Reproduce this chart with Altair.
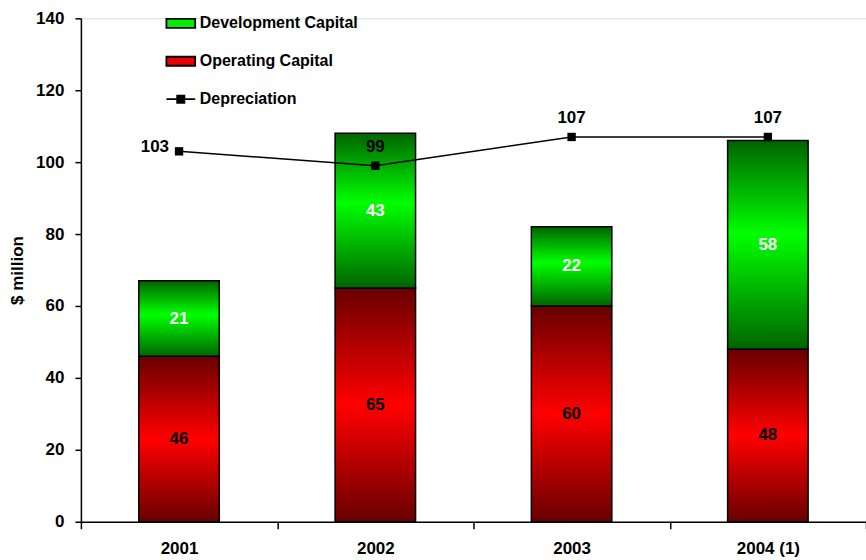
import altair as alt
import pandas as pd

years = ["2001", "2002", "2003", "2004 (1)"]
operating = [46, 65, 60, 48]
development = [21, 43, 22, 58]
depreciation = [103, 99, 107, 107]
series = ["Development Capital", "Operating Capital", "Depreciation"]

df = pd.DataFrame({
    "year": years,
    "operating": operating,
    "development": development,
    "depreciation": depreciation,
})
legend_df = pd.DataFrame({"series": series})

FONT = "Liberation Sans"

red_grad = {
    "gradient": "linear", "x1": 0, "y1": 0, "x2": 0, "y2": 1,
    "stops": [
        {"offset": 0, "color": "#680000"},
        {"offset": 0.5, "color": "#ff0000"},
        {"offset": 1, "color": "#680000"},
    ],
}
green_grad = {
    "gradient": "linear", "x1": 0, "y1": 0, "x2": 0, "y2": 1,
    "stops": [
        {"offset": 0, "color": "#006400"},
        {"offset": 0.45, "color": "#00ff00"},
        {"offset": 1, "color": "#006400"},
    ],
}

x_enc = alt.X(
    "year:N", sort=years, title=None,
    scale=alt.Scale(paddingInner=0, paddingOuter=0),
    axis=alt.Axis(labelAngle=0, tickBand="extent", ticks=True, tickSize=7,
                  tickColor="black", tickWidth=1.5, domainColor="black",
                  domainWidth=1.5, labelFont=FONT, labelFontWeight="bold",
                  labelFontSize=17, labelColor="black", labelPadding=12),
)
y_scale = alt.Scale(domain=[0, 140], nice=False)
y_axis = alt.Axis(values=list(range(0, 141, 20)), tickSize=6, tickColor="black",
                  tickWidth=1.5, domainColor="black", domainWidth=1.5,
                  grid=False, labelFont=FONT, labelFontWeight="bold",
                  labelFontSize=17, labelColor="black", labelPadding=11,
                  title="$ million", titleFont=FONT, titleFontWeight="bold",
                  titleFontSize=17, titleColor="black", titlePadding=9)

base = alt.Chart(df).transform_calculate(
    total="datum.operating + datum.development",
    op_mid="datum.operating / 2",
    dev_mid="datum.operating + datum.development / 2",
)

BAR_W = {"band": 0.41}

op_bars = base.mark_bar(fill=red_grad, stroke="black", strokeWidth=1.5,
                        width=BAR_W).encode(
    x=x_enc,
    y=alt.Y("operating:Q", scale=y_scale, axis=y_axis),
)
dev_bars = base.mark_bar(fill=green_grad, stroke="black", strokeWidth=1.5,
                         width=BAR_W).encode(
    x=x_enc,
    y=alt.Y("operating:Q", scale=y_scale, axis=y_axis),
    y2="total:Q",
)
op_text = base.mark_text(font=FONT, fontWeight="bold", fontSize=17, color="black",
                         baseline="middle").encode(
    x=x_enc, y=alt.Y("op_mid:Q", scale=y_scale), text="operating:Q")
dev_text = base.mark_text(font=FONT, fontWeight="bold", fontSize=17, color="white",
                          baseline="middle").encode(
    x=x_enc, y=alt.Y("dev_mid:Q", scale=y_scale), text="development:Q")

line = base.mark_line(color="black", strokeWidth=1.5).encode(
    x=x_enc, y=alt.Y("depreciation:Q", scale=y_scale))
pts = base.mark_point(shape="square", filled=True, color="black", size=70,
                      opacity=1).encode(
    x=x_enc, y=alt.Y("depreciation:Q", scale=y_scale))
dep_text_first = base.transform_filter(alt.datum.year == years[0]).mark_text(
    font=FONT, fontWeight="bold", fontSize=17, color="black",
    align="right", baseline="middle", dx=-10, dy=-4).encode(
    x=x_enc, y=alt.Y("depreciation:Q", scale=y_scale), text="depreciation:Q")
dep_text_rest = base.transform_filter(alt.datum.year != years[0]).mark_text(
    font=FONT, fontWeight="bold", fontSize=17, color="black",
    align="center", baseline="bottom", dy=-10).encode(
    x=x_enc, y=alt.Y("depreciation:Q", scale=y_scale), text="depreciation:Q")

rect_path = "M-1.6,-0.5H1.6V0.5H-1.6Z"
dep_path = "M-1.6,0H1.6M-0.4,-0.4H0.4V0.4H-0.4Z"

legend_cfg = dict(
    orient="none", legendX=90, legendY=-5, title=None, symbolSize=324,
    symbolOpacity=1, symbolStrokeWidth=1.8,
    labelFont=FONT, labelFontWeight="bold", labelFontSize=16,
    labelColor="black", labelOffset=9, rowPadding=19, padding=0,
)

legend_layer = alt.Chart(legend_df).mark_point(
    filled=True, size=0, strokeWidth=1.8
).encode(
    fill=alt.Fill("series:N", sort=series,
                  scale=alt.Scale(domain=series, range=["#00ee00", "#ee0000", "black"]),
                  legend=alt.Legend(**legend_cfg)),
    stroke=alt.Stroke("series:N", sort=series,
                      scale=alt.Scale(domain=series, range=["black", "black", "black"]),
                      legend=alt.Legend(**legend_cfg)),
    shape=alt.Shape("series:N", sort=series,
                    scale=alt.Scale(domain=series, range=[rect_path, rect_path, dep_path]),
                    legend=alt.Legend(**legend_cfg)),
)

chart = alt.layer(
    op_bars, dev_bars, line, pts, op_text, dev_text, dep_text_first, dep_text_rest,
    legend_layer,
).properties(
    width=786, height=504,
    padding={"left": 81, "top": 18, "right": 0, "bottom": 38},
    autosize=alt.AutoSizeParams(type="none"),
).configure_view(stroke=None).configure(background="white")

chart.save("out.html", embed_options={"renderer": "svg", "actions": False})
